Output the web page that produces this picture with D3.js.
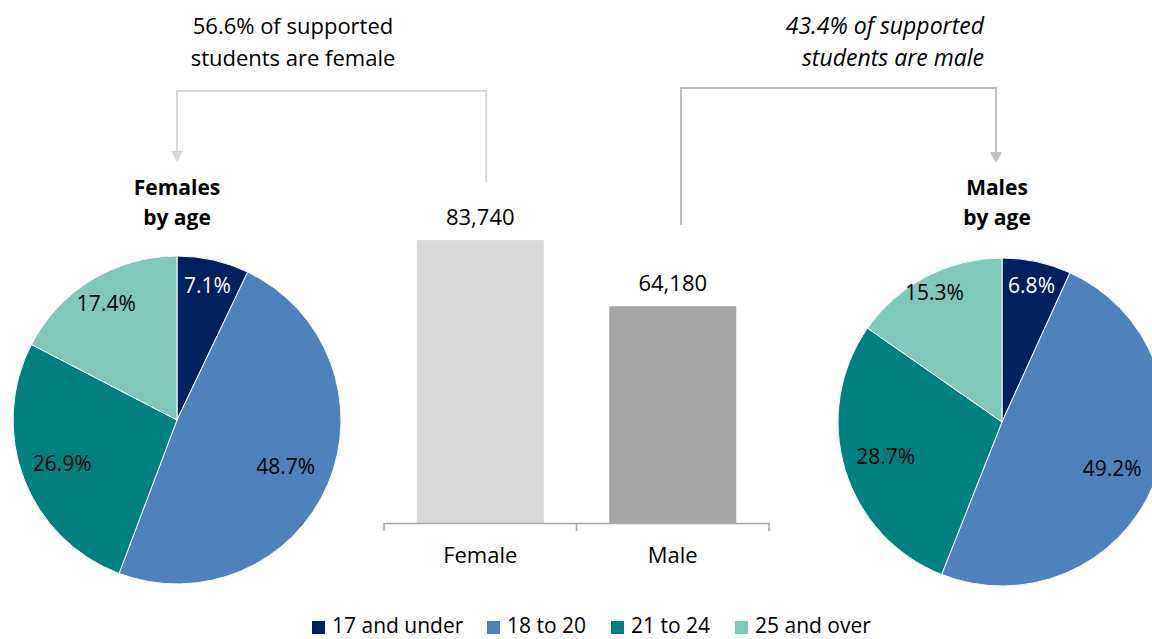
<!DOCTYPE html>
<html>
<head>
<meta charset="utf-8">
<script src="https://cdn.jsdelivr.net/npm/d3@7/dist/d3.min.js"></script>
<style>
  html, body { margin: 0; padding: 0; background: #fff; }
  svg { display: block; font-family: "Open Sans", "Noto Sans", sans-serif; }
</style>
</head>
<body>
<svg id="chart" width="1152" height="639"></svg>
<script>
// ---- data ----
const ageGroups = ["17 and under", "18 to 20", "21 to 24", "25 and over"];
const femaleShares = [7.1, 48.7, 26.9, 17.4];
const maleShares = [6.8, 49.2, 28.7, 15.3];
const genders = ["Female", "Male"];
const genderCounts = [83740, 64180];
const genderPctText = ["56.6% of supported", "students are female"];
const malePctText = ["43.4% of supported", "students are male"];

// ---- style / layout ----
const ageColors = ["#002060", "#4f81bd", "#008080", "#80c8b9"];
const barColors = ["#d9d9d9", "#a6a6a6"];
const svg = d3.select("#chart");

// ---- pies ----
const pie = d3.pie().sort(null).value(d => d);
const R = 164;
const arc = d3.arc().innerRadius(0).outerRadius(R);
const labelFactorsF = [0.84, 0.72, 0.75, 0.83];
const labelFactorsM = [0.85, 0.73, 0.74, 0.89];

function drawPie(values, cx, cy, factors) {
  const g = svg.append("g").attr("transform", `translate(${cx},${cy})`);
  const arcs = pie(values);
  g.selectAll("path").data(arcs).join("path")
    .attr("d", arc)
    .attr("fill", (d, i) => ageColors[i])
    .attr("stroke", "#fff").attr("stroke-width", 1);
  g.selectAll("text").data(arcs).join("text")
    .attr("transform", (d, i) => {
      const a = (d.startAngle + d.endAngle) / 2;
      const r = R * factors[i];
      return `translate(${Math.sin(a) * r},${-Math.cos(a) * r})`;
    })
    .attr("text-anchor", "middle")
    .attr("dy", "0.35em")
    .attr("font-size", 21)
    .attr("fill", (d, i) => i === 0 ? "#fff" : "#000")
    .text(d => d.data.toFixed(1) + "%");
}
drawPie(femaleShares, 177, 420, labelFactorsF);
drawPie(maleShares, 1002, 422, labelFactorsM);

// pie titles
function title(lines, x) {
  const t = svg.append("text").attr("text-anchor", "middle")
    .attr("font-weight", "bold").attr("font-size", 21).attr("fill", "#000");
  lines.forEach((l, i) => t.append("tspan").attr("x", x).attr("y", 195 + i * 30).text(l));
}
title(["Females", "by age"], 177);
title(["Males", "by age"], 997);

// ---- bars ----
const x = d3.scaleBand().domain(genders).range([384, 769]).padding(0);
const y = d3.scaleLinear().domain([0, 90000]).range([523, 219]);
const barW = x.bandwidth() * 0.66;

svg.selectAll("rect.bar").data(genders).join("rect")
  .attr("class", "bar")
  .attr("x", d => x(d) + (x.bandwidth() - barW) / 2)
  .attr("width", barW)
  .attr("y", (d, i) => y(genderCounts[i]))
  .attr("height", (d, i) => y(0) - y(genderCounts[i]))
  .attr("fill", (d, i) => barColors[i]);

svg.selectAll("text.val").data(genders).join("text")
  .attr("class", "val")
  .attr("x", d => x(d) + x.bandwidth() / 2)
  .attr("y", (d, i) => y(genderCounts[i]) - 15)
  .attr("text-anchor", "middle").attr("font-size", 22).attr("fill", "#000")
  .text((d, i) => d3.format(",")(genderCounts[i]));

const axis = d3.axisBottom(x).tickSize(0).tickPadding(24);
const ag = svg.append("g").attr("transform", `translate(0,${y(0)})`).call(axis);
ag.select(".domain").attr("stroke", "#a6a6a6").attr("stroke-width", 1.5);
ag.selectAll("text").attr("font-size", 22).attr("fill", "#000")
  .attr("font-family", "Open Sans, Noto Sans, sans-serif");
// boundary ticks
const bounds = [x.range()[0], x("Male"), x.range()[1]];
ag.selectAll("line.btick").data(bounds).join("line")
  .attr("class", "btick")
  .attr("x1", d => d).attr("x2", d => d).attr("y1", 0).attr("y2", 8)
  .attr("stroke", "#a6a6a6").attr("stroke-width", 1.5);

// ---- connectors ----
function arrowHead(xp, tipY, color) {
  svg.append("path")
    .attr("d", `M${xp - 6},${tipY - 11}L${xp + 6},${tipY - 11}L${xp},${tipY}Z`)
    .attr("fill", color);
}
const fx = x("Female") + x.bandwidth() / 2 + 6;
svg.append("path")
  .attr("d", `M${fx},182V91H177V152`)
  .attr("fill", "none").attr("stroke", "#d9d9d9").attr("stroke-width", 2);
arrowHead(177, 162, "#d9d9d9");

svg.append("path")
  .attr("d", `M681,225V88H996V152`)
  .attr("fill", "none").attr("stroke", "#bfbfbf").attr("stroke-width", 2);
arrowHead(996, 163, "#bfbfbf");

// annotations
const a1 = svg.append("text").attr("text-anchor", "middle").attr("font-size", 22).attr("fill", "#000");
genderPctText.forEach((l, i) => a1.append("tspan").attr("x", 293).attr("y", 34 + i * 32).text(l));
const a2 = svg.append("text").attr("text-anchor", "end").attr("font-size", 23)
  .attr("font-style", "italic").attr("fill", "#000");
malePctText.forEach((l, i) => a2.append("tspan").attr("x", 984).attr("y", 34 + i * 32).text(l));

// ---- legend ----
const legendX = [312, 487, 611, 735];
const lg = svg.append("g");
ageGroups.forEach((name, i) => {
  lg.append("rect").attr("x", legendX[i]).attr("y", 621).attr("width", 13).attr("height", 13)
    .attr("fill", ageColors[i]);
  lg.append("text").attr("x", legendX[i] + 20).attr("y", 633)
    .attr("font-size", 21).attr("fill", "#000").text(name);
});
</script>
</body>
</html>
